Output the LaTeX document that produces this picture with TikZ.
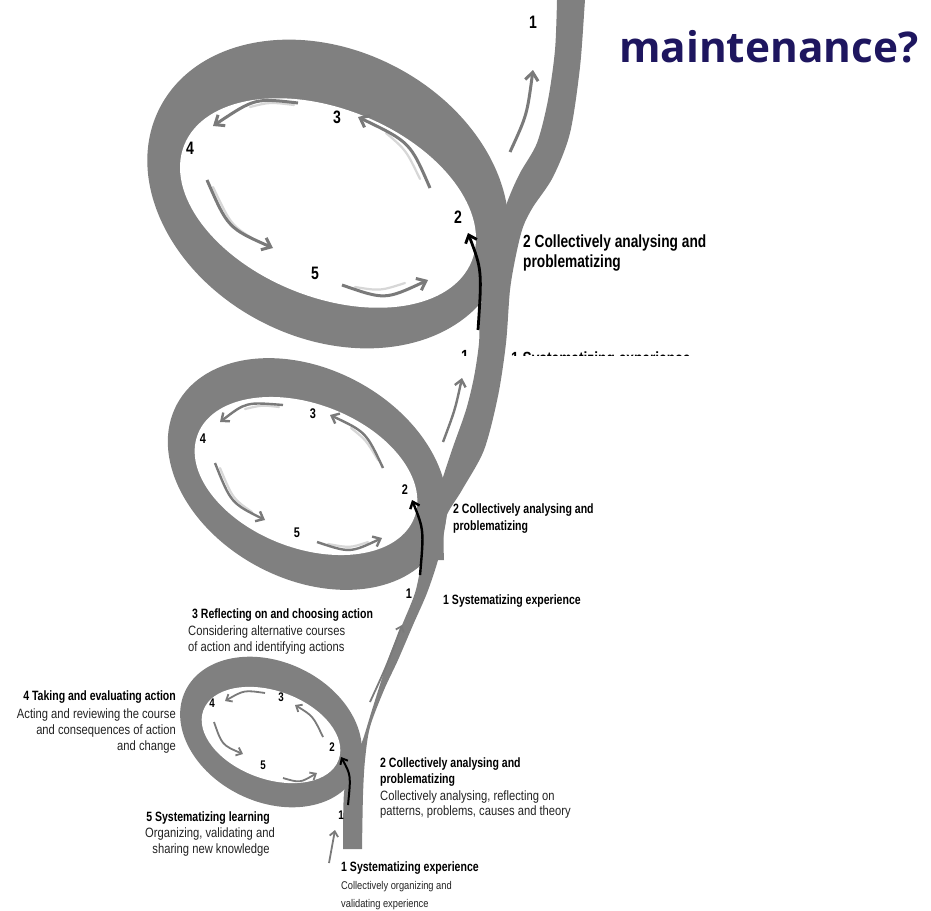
\documentclass[tikz,border=0pt]{standalone}
\usepackage{fontspec}
\usetikzlibrary{arrows.meta}
\newfontfamily\bcond[FakeStretch=0.78]{Liberation Sans}
\newfontfamily\rcond[FakeStretch=0.83]{Liberation Sans}
\newfontfamily\mfont{Open Sans}
\definecolor{bandgray}{RGB}{128,128,128}
\definecolor{arrgray}{RGB}{122,122,122}
\definecolor{hlgray}{RGB}{215,215,215}
\definecolor{navy}{RGB}{30,22,95}
\definecolor{txtgray}{RGB}{35,35,35}
\begin{document}
\begin{tikzpicture}[x=1pt,y=-1pt,
  band/.style={fill=bandgray},
  hole/.style={fill=white},
  hl/.style={draw=hlgray, line width=2.2pt, line cap=round},
  gaL/.style={draw=arrgray, line width=3pt, -{Straight Barb[length=8pt,width=13pt]}},
  gaM/.style={draw=arrgray, line width=2.4pt, -{Straight Barb[length=6.5pt,width=11pt]}},
  gaS/.style={draw=arrgray, line width=1.8pt, -{Straight Barb[length=5pt,width=8.5pt]}},
  baL/.style={draw=black, line width=2.8pt, -{Straight Barb[length=7pt,width=12pt]}},
  baM/.style={draw=black, line width=2.4pt, -{Straight Barb[length=6pt,width=10pt]}},
  baS/.style={draw=black, line width=2pt, -{Straight Barb[length=5pt,width=8.5pt]}},
  numL/.style={font=\bcond\bfseries\fontsize{18}{20}\selectfont, inner sep=0},
  numM/.style={font=\bcond\bfseries\fontsize{14}{16}\selectfont, inner sep=0},
  numS/.style={font=\bcond\bfseries\fontsize{12.5}{14}\selectfont, inner sep=0},
  hb/.style={font=\bcond\bfseries\fontsize{13.5}{16}\selectfont, inner sep=0, anchor=base west},
  hbl/.style={font=\bcond\bfseries\fontsize{17.6}{20}\selectfont, inner sep=0, anchor=base west},
  rt/.style={font=\rcond\fontsize{13.5}{16}\selectfont, text=txtgray, inner sep=0, anchor=base west},
  rts/.style={font=\rcond\fontsize{11.2}{13}\selectfont, text=txtgray, inner sep=0, anchor=base west}
]
\useasboundingbox (0,0) rectangle (931,910);
\fill[white] (0,0) rectangle (931,910);

% ---- outer bands of the loops
\begin{scope}[shift={(328,194)}, rotate=-27]
  \fill[band] (0,0) ellipse [x radius=189, y radius=144];
\end{scope}
\begin{scope}[shift={(307.5,474)}, rotate=-28]
  \fill[band] (0,0) ellipse [x radius=148, y radius=105];
\end{scope}
\begin{scope}[shift={(271,732)}, rotate=-25.6]
  \fill[band] (0,0) ellipse [x radius=95, y radius=70];
\end{scope}

% ---- stem: bottom to loop 2
\fill[band] plot[smooth, tension=0.5] coordinates {(362,849) (363,795) (365,760) (370,727) (384,690) (398,660) (413,625) (427,593) (438,560) (445,527) (448,500)}
  -- (436,500) -- plot[smooth, tension=0.5] coordinates {(430,525) (422,560) (415,593) (400,630) (388,660) (372,710) (362,742) (351,765) (344,793) (343,849)} -- cycle;
% ---- stem: loop 2 to top
\fill[band] plot[smooth, tension=0.5] coordinates {(444,560) (445,520) (462,490) (484,450) (498,396) (506,343) (510,290) (516,255) (523,227) (533,207) (553,177) (570,133) (580,67) (585,0) (586,-5)}
  -- (556,-5) -- plot[smooth, tension=0.5] coordinates {(557,0) (555,50) (548,100) (537,143) (520,173) (508,200) (495,240) (487,280) (480,310) (479,343) (474,377) (466,410) (453,447) (443,477) (432,510) (426,560)} -- cycle;

% ---- inner holes
\begin{scope}[shift={(328,203)}, rotate=-22]
  \fill[hole] (0,0) ellipse [x radius=155, y radius=94];
\end{scope}
\begin{scope}[shift={(306,476)}, rotate=-21]
  \fill[hole] (0,0) ellipse [x radius=116, y radius=72];
\end{scope}
\begin{scope}[shift={(271,735)}, rotate=-20]
  \fill[hole] (0,0) ellipse [x radius=72, y radius=44];
\end{scope}

% ---- light shading beside the arrows
\draw[hl] (294,105) .. controls (270,102) .. (250,107);
\draw[hl] (213,187) .. controls (231,225) .. (255,240);
\draw[hl] (355,287) .. controls (380,291) .. (405,283);
\draw[hl] (420,179) .. controls (406,150) .. (386,133);
\draw[hl] (279,407) .. controls (262,405) .. (245,409);
\draw[hl] (220,468) .. controls (233,499) .. (252,512);
\draw[hl] (328,544) .. controls (350,548) .. (368,542);
\draw[hl] (378,460) .. controls (366,440) .. (351,428);

% ---- arrows, loop 3
\draw[gaL] (298,103) .. controls (255,98) .. (213,126);
\draw[gaL] (207,180) .. controls (228,228) .. (273,248);
\draw[gaL] (342,285) .. controls (385,300) .. (428,280);
\draw[gaL] (430,188) .. controls (410,142) .. (358,117);
\draw[gaL] (510,152) .. controls (527,115) .. (533,70);
\draw[baL] (478,330) .. controls (482,270) .. (468,233);
% ---- arrows, loop 2
\draw[gaM] (283,405) .. controls (246,402) .. (220,422);
\draw[gaM] (215,463) .. controls (231,503) .. (265,520);
\draw[gaM] (317,542) .. controls (350,553) .. (382,538);
\draw[gaM] (383,468) .. controls (366,432) .. (330,415);
\draw[gaM] (443,442) .. controls (455,410) .. (462,378);
\draw[baM] (420,575) .. controls (424,530) .. (412,500);
% ---- arrows, loop 1
\draw[gaS] (265,693) .. controls (244,690) .. (225,701);
\draw[gaS] (214,722) .. controls (222,745) .. (243,754);
\draw[gaS] (283,778) .. controls (300,783) .. (317,773);
\draw[gaS] (323,737) .. controls (313,716) .. (295,705);
\draw[gaS] (370,702) .. controls (387,665) .. (402,625);
\draw[gaS] (329,863) -- (335,830);
\draw[baS] (348,805) .. controls (351,775) .. (341,757);

% ---- numbers
\node[numL] (t1) at (533,22) {1};
\node[numL] (t3) at (337,117) {3};
\node[numL] (t4) at (190,148) {4};
\node[numL] (t2) at (458,217) {2};
\node[numL] (t5) at (315,273) {5};
\node[numM] (m3) at (313,414) {3};
\node[numM] (m4) at (203,439) {4};
\node[numM] (m2) at (405,490) {2};
\node[numM] (m5) at (297,533) {5};
\node[numM] (m1) at (409,594) {1};
\node[numS] (s4) at (212,703) {4};
\node[numS] (s3) at (281,697) {3};
\node[numS] (s2) at (332,747) {2};
\node[numS] (s5) at (263,765) {5};
\node[numS] (s1) at (341,815) {1};

% ---- clipped strip left by the overlapping top picture
\begin{scope}
  \clip (452,346) rectangle (700,355.5);
  \node[hbl, anchor=base] (cut1) at (465,362) {1};
  \node[hbl] (cut2) at (511,364) {1 Systematizing experience};
\end{scope}

% ---- labels
\node[hbl] (top2a) at (523,247) {2 Collectively analysing and};
\node[hbl] (top2b) at (523,267) {problematizing};

\node[hb] (mid2a) at (453,513) {2 Collectively analysing and};
\node[hb] (mid2b) at (453,530) {problematizing};
\node[hb] (mid1) at (443,604) {1 Systematizing experience};

\node[hb] (r3a) at (192,618) {3 Reflecting on and choosing action};
\node[rt] (r3b) at (188,635) {Considering alternative courses};
\node[rt] (r3c) at (188,651) {of action and identifying actions};

\node[hb, anchor=base east] (t4a) at (176,700) {4 Taking and evaluating action};
\node[rt, anchor=base east] (t4b) at (176,718) {Acting and reviewing the course};
\node[rt, anchor=base east] (t4c) at (176,734) {and consequences of action};
\node[rt, anchor=base east] (t4d) at (176,750) {and change};

\node[hb, anchor=base] (s5a) at (208,821) {5 Systematizing learning};
\node[rt, anchor=base] (s5b) at (210,837) {Organizing, validating and};
\node[rt, anchor=base] (s5c) at (211,853) {sharing new knowledge};

\node[hb] (b2a) at (380,767) {2 Collectively analysing and};
\node[hb] (b2b) at (380,783) {problematizing};
\node[rt] (b2c) at (380,800) {Collectively analysing, reflecting on};
\node[rt] (b2d) at (380,815) {patterns, problems, causes and theory};

\node[hb] (b1a) at (341,871) {1 Systematizing experience};
\node[rts] (b1b) at (341,889) {Collectively organizing and};
\node[rts] (b1c) at (341,907) {validating experience};

\node[font=\mfont\bfseries\fontsize{42.3}{45}\selectfont, text=navy, inner sep=0, anchor=base west] (title) at (619,62) {maintenance?};
\end{tikzpicture}
\end{document}
